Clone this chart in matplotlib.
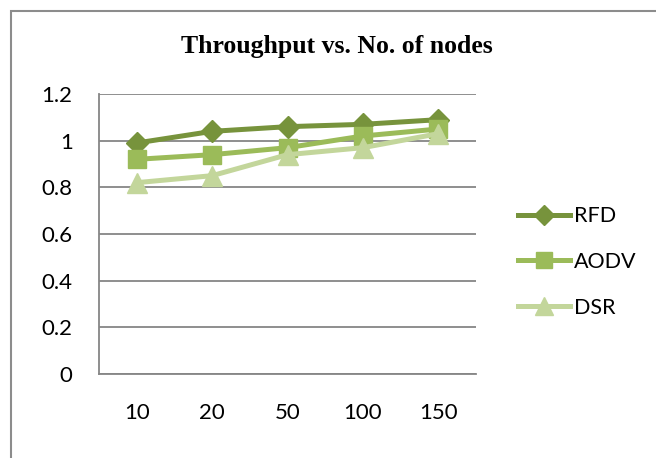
import matplotlib.pyplot as plt
import matplotlib.patches as patches

# values
nodes = ['10', '20', '50', '100', '150']
rfd = [0.99, 1.04, 1.06, 1.07, 1.09]
aodv = [0.92, 0.94, 0.97, 1.02, 1.05]
dsr = [0.82, 0.85, 0.94, 0.97, 1.03]
yticks = [0, 0.2, 0.4, 0.6, 0.8, 1, 1.2]
ylabels = ['0', '0.2', '0.4', '0.6', '0.8', '1', '1.2']

fig = plt.figure(figsize=(6.56, 4.58), dpi=100)
ax = fig.add_axes([99/656, 1-374/458, 377/656, 280/458])

x = range(len(nodes))
ax.plot(x, rfd, color='#77933c', lw=3.6, marker='D', ms=11, label='RFD')
ax.plot(x, aodv, color='#9bbb59', lw=3.6, marker='s', ms=13, label='AODV')
ax.plot(x, dsr, color='#c3d69b', lw=3.6, marker='^', ms=14, label='DSR')

ax.set_xlim(-0.5, len(nodes) - 0.5)
ax.set_ylim(0, 1.2)
ax.set_xticks(list(x))
ax.set_xticklabels(nodes)
ax.set_yticks(yticks)
ax.set_yticklabels(ylabels)
ax.tick_params(length=0, labelsize=16)
ax.tick_params(axis='y', pad=19)
ax.tick_params(axis='x', pad=21)
for lab in ax.get_xticklabels() + ax.get_yticklabels():
    lab.set_fontfamily('Lato')
ax.grid(axis='y', color='#868686', lw=1.3)
ax.set_axisbelow(True)
for s in ['top', 'right']:
    ax.spines[s].set_visible(False)
for s in ['left', 'bottom']:
    ax.spines[s].set_color('#868686')
    ax.spines[s].set_linewidth(1.3)

fig.text(337/656, 1-47/458, 'Throughput vs. No. of nodes', ha='center', va='center',
         fontfamily='Liberation Serif', fontweight='bold', fontsize=18.5)

leg = fig.legend(loc='center left', bbox_to_anchor=(499/656, 1-262/458), frameon=False,
                 prop={'family': 'Lato', 'size': 15.5}, labelspacing=1.2,
                 handlelength=2.4, handletextpad=0.2, markerscale=0.9)

# outer chart border
fig.patches.append(patches.Rectangle((11/656, -0.1), 1.2, 1.1 - 11/458, transform=fig.transFigure,
                                     fill=False, edgecolor='#8c8c8c', lw=1.5))

fig.savefig('out.png', dpi=100)
